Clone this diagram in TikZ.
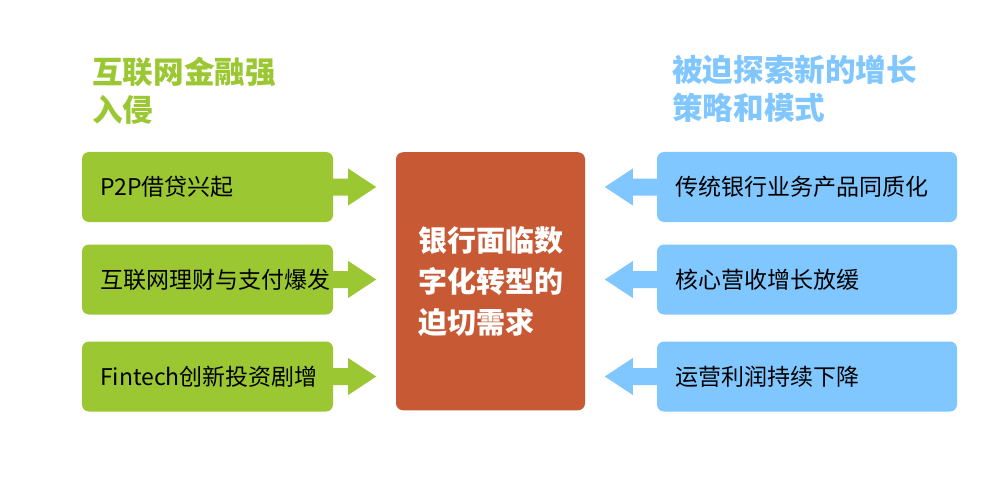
\documentclass[tikz,border=0pt]{standalone}
\usepackage{fontspec}
\setmainfont{Noto Sans CJK SC}
\definecolor{gr}{RGB}{155,200,50}
\definecolor{bl}{RGB}{128,198,255}
\definecolor{rd}{RGB}{199,90,52}
\begin{document}
\begin{tikzpicture}[x=1pt,y=-1pt,
  box/.style={rounded corners=7pt, inner sep=0pt, minimum height=70pt},
  lbox/.style={box, fill=gr, minimum width=251pt},
  rbox/.style={box, fill=bl, minimum width=300pt},
  btext/.style={anchor=west, inner sep=0pt, text=black, font=\fontsize{23}{27}\selectfont},
  head/.style={anchor=west, inner sep=0pt, align=left, font=\bfseries\fontsize{30.6}{38}\selectfont},
  ctext/.style={inner sep=0pt, align=left, text=white, font=\bfseries\fontsize{29}{41}\selectfont}]
\fill[white] (0,0) rectangle (1000,489);
% headings
\node[head, text=gr] (lh) at (92,91) {互联网金融强\\入侵};
\node[head, text=bl] (rh) at (672,89) {被迫探索新的增长\\策略和模式};
% centre box
\node[box, fill=rd, minimum width=189pt, minimum height=258pt] (c) at (490.5,281.25) {};
\node[ctext] (ct) at (c.center) {银行面临数\\字化转型的\\迫切需求};
% left boxes
\node[lbox] (l1) at (207.5,187) {};
\node[lbox] (l2) at (207.5,279.5) {};
\node[lbox] (l3) at (207.5,376.5) {};
\node[btext] (l1t) at ([xshift=18pt]l1.west) {P2P借贷兴起};
\node[btext] (l2t) at ([xshift=18pt]l2.west) {互联网理财与支付爆发};
\node[btext] (l3t) at ([xshift=18pt]l3.west) {Fintech创新投资剧增};
% right boxes
\node[rbox] (r1) at (807,187) {};
\node[rbox] (r2) at (807,279.5) {};
\node[rbox] (r3) at (807,376.5) {};
\node[btext] (r1t) at ([xshift=18pt]r1.west) {传统银行业务产品同质化};
\node[btext] (r2t) at ([xshift=18pt]r2.west) {核心营收增长放缓};
\node[btext] (r3t) at ([xshift=18pt]r3.west) {运营利润持续下降};
% arrows
\foreach \b in {l1,l2,l3}{
  \fill[gr] ([xshift=-1pt]\b.east) ++(0,-8.5) -- ++(16,0) -- ++(0,-10) -- ++(28,18.5) -- ++(-28,18.5) -- ++(0,-10) -- ++(-16,0) -- cycle;
}
\foreach \b in {r1,r2,r3}{
  \fill[bl] ([xshift=1pt]\b.west) ++(0,-8.5) -- ++(-25,0) -- ++(0,-10) -- ++(-28,18.5) -- ++(28,18.5) -- ++(0,-10) -- ++(25,0) -- cycle;
}
\end{tikzpicture}
\end{document}
